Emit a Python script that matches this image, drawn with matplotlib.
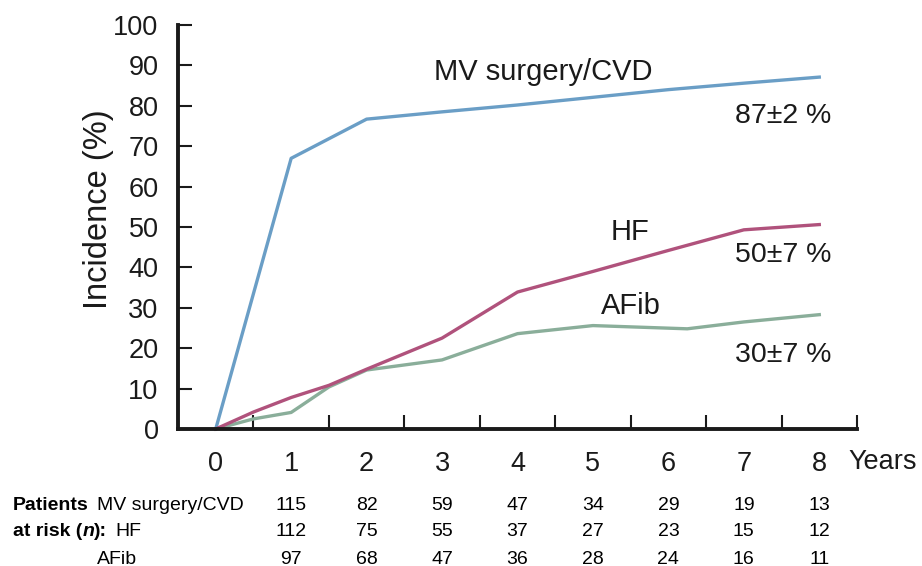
import numpy as np
import matplotlib
matplotlib.use("Agg")
import matplotlib.pyplot as plt
from matplotlib.transforms import blended_transform_factory

plt.rcParams['font.family'] = ['Liberation Sans', 'DejaVu Sans']

# curves (years, incidence %)
mv_years = [0, 1, 2, 3, 4, 5, 6, 7, 8]
mv_vals = [0, 67, 76.7, 78.5, 80.2, 82.1, 84.0, 85.6, 87.1]

hf_years = [0, 0.5, 1, 1.5, 2, 3, 4, 5, 6, 7, 8]
hf_vals = [0, 4.2, 7.8, 10.8, 14.8, 22.5, 33.9, 39.0, 44.2, 49.3, 50.6]

af_years = [0, 0.5, 1, 1.5, 2, 3, 4, 5, 6.25, 7, 8]
af_vals = [0, 2.5, 4.1, 10.4, 14.6, 17.1, 23.6, 25.6, 24.8, 26.5, 28.3]

# patients at risk
risk_years = [1, 2, 3, 4, 5, 6, 7, 8]
risk_mv = [115, 82, 59, 47, 34, 29, 19, 13]
risk_hf = [112, 75, 55, 37, 27, 23, 15, 12]
risk_af = [97, 68, 47, 36, 28, 24, 16, 11]

c_mv = '#6a9ec6'
c_hf = '#b0527c'
c_af = '#8aae9a'

fig = plt.figure(figsize=(9.22, 5.66), dpi=100)
ax = fig.add_axes([178/922, 1-429/566, 679/922, 404/566])

ax.plot(mv_years, mv_vals, color=c_mv, lw=2.4, clip_on=False)
ax.plot(af_years, af_vals, color=c_af, lw=2.4, clip_on=False)
ax.plot(hf_years, hf_vals, color=c_hf, lw=2.4, clip_on=False)

ax.set_xlim(-0.5, 8.5)
ax.set_ylim(0, 100)
for s in ['top', 'right']:
    ax.spines[s].set_visible(False)
for s in ['left', 'bottom']:
    ax.spines[s].set_linewidth(2.8)
    ax.spines[s].set_color('#1a1a1a')

ax.set_yticks(np.arange(0, 101, 10))
ax.tick_params(axis='y', direction='in', length=10, width=1.5, pad=14,
               labelsize=19.5, colors='#1a1a1a')
# tick marks between the years, labels at the years
ax.set_xticks(np.arange(0, 9))
ax.set_xticks(np.arange(0.5, 9, 1), minor=True)
ax.tick_params(axis='x', which='major', length=0, pad=16, labelsize=19.5, colors='#1a1a1a')
ax.tick_params(axis='x', which='minor', direction='in', length=10, width=1.5, colors='#1a1a1a')

fig.text(98/922, 1-209/566, 'Incidence (%)', rotation=90, ha='center', va='center',
         fontsize=23.5, color='#1a1a1a')
ax.text(8.38, -0.082, 'Years', transform=ax.get_xaxis_transform(), ha='left', va='center',
        fontsize=19.5, color='#1a1a1a', clip_on=False)

# curve labels
ax.text(4.34, 88.4, 'MV surgery/CVD', ha='center', va='center', fontsize=21, color='#1a1a1a')
ax.text(6.88, 77.5, '87\u00b12 %', ha='left', va='center', fontsize=20.5, color='#1a1a1a')
ax.text(5.49, 48.8, 'HF', ha='center', va='center', fontsize=21, color='#1a1a1a')
ax.text(6.88, 43.0, '50\u00b17 %', ha='left', va='center', fontsize=20.5, color='#1a1a1a')
ax.text(5.5, 30.4, 'AFib', ha='center', va='center', fontsize=21, color='#1a1a1a')
ax.text(6.88, 18.3, '30\u00b17 %', ha='left', va='center', fontsize=20.5, color='#1a1a1a')

# at-risk table
tfs = 14
rows_y = [1-506/566, 1-532/566, 1-559/566]
fig.text(13/922, rows_y[0], 'Patients', fontweight='bold', fontsize=tfs, va='center')
t1 = fig.text(13/922, rows_y[1], 'at risk (', fontweight='bold', fontsize=tfs, va='center')
t2 = ax.annotate('n', xy=(1, 0), xycoords=t1, va='bottom', ha='left',
                 fontweight='bold', style='italic', fontsize=tfs)
t3 = ax.annotate('):', xy=(1, 0), xycoords=t2, va='bottom', ha='left',
                 fontweight='bold', fontsize=tfs)
fig.text(97/922, rows_y[0], 'MV surgery/CVD', fontsize=tfs, va='center')
fig.text(115/922, rows_y[1], 'HF', fontsize=tfs, va='center')
fig.text(97/922, rows_y[2], 'AFib', fontsize=tfs, va='center')

tr = blended_transform_factory(ax.transData, fig.transFigure)
for vals, y in zip([risk_mv, risk_hf, risk_af], rows_y):
    for yr, v in zip(risk_years, vals):
        fig.text(yr, y, str(v), transform=tr, ha='center', va='center', fontsize=tfs)

fig.savefig('out.png', dpi=100)
